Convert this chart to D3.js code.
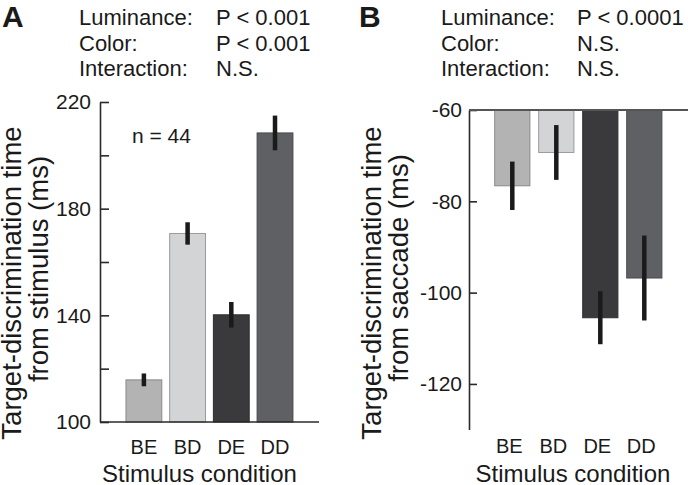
<!DOCTYPE html>
<html>
<head>
<meta charset="utf-8">
<script src="https://cdn.jsdelivr.net/npm/d3@7"></script>
<style>
  html, body { margin: 0; padding: 0; background: #fff; }
  svg { display: block; font-family: "Liberation Sans", Arial, Helvetica, sans-serif; }
  text { fill: #1a1a1a; }
</style>
</head>
<body>
<svg id="chart" width="688" height="485"></svg>
<script>
// ---------- data ----------
const categories = ["BE", "BD", "DE", "DD"];
const colors = ["#b3b3b3", "#d3d4d6", "#3a3a3c", "#5f6064"];
const strokes = ["#8a8a8a", "#9a9a9a", "#2e2e2e", "#4a4a4e"];

const valuesA = [115.8, 170.7, 140.2, 208.4];
const errorsA = [2.4, 4.2, 4.8, 6.5];
const ticksA = [100, 120, 140, 160, 180, 200, 220];
const tickLabelsA = [100, 140, 180, 220];

const valuesB = [-76.6, -69.3, -105.5, -96.8];
const errorsB = [5.3, 6.0, 5.8, 9.3];
const ticksB = [-60, -80, -100, -120];

const statNames = ["Luminance:", "Color:", "Interaction:"];
const statsA = ["P < 0.001", "P < 0.001", "N.S."];
const statsB = ["P < 0.0001", "N.S.", "N.S."];

const yLabelA = ["Target-discrimination time", "from stimulus (ms)"];
const yLabelB = ["Target-discrimination time", "from saccade (ms)"];
const xLabel = "Stimulus condition";
const nLabel = "n = 44";

// ---------- drawing ----------
const svg = d3.select("#chart");
const axisColor = "#2a2a2a";

function header(g, letter, x0, xName, xVal, vals) {
  g.append("text").attr("x", x0).attr("y", 27)
    .attr("font-size", 30).attr("font-weight", "bold").text(letter);
  statNames.forEach((s, i) => {
    g.append("text").attr("x", xName).attr("y", 25 + i * 25.5)
      .attr("font-size", 22).text(s);
    g.append("text").attr("x", xVal).attr("y", 25 + i * 25.5)
      .attr("font-size", 22).text(vals[i]);
  });
}
header(svg, "A", 2, 79, 216, statsA);
header(svg, "B", 359, 441, 577, statsB);

function yLabel(lines, x1, x2, c1, c2) {
  svg.append("text").attr("transform", `translate(${x1},${c1}) rotate(-90)`)
    .attr("text-anchor", "middle").attr("font-size", 27.5).text(lines[0]);
  svg.append("text").attr("transform", `translate(${x2},${c2}) rotate(-90)`)
    .attr("text-anchor", "middle").attr("font-size", 27.5).text(lines[1]);
}

// ---- Panel A ----
const yA = d3.scaleLinear().domain([100, 220]).range([422, 102]);
const xA = d3.scaleBand().domain(categories).range([121.6, 297.3])
  .paddingInner(0.18).paddingOuter(0.1);
const axA = 100;

const gA = svg.append("g");
gA.selectAll("rect.bar").data(categories).join("rect")
  .attr("x", d => xA(d)).attr("width", xA.bandwidth())
  .attr("y", (d, i) => yA(valuesA[i]))
  .attr("height", (d, i) => yA(100) - yA(valuesA[i]))
  .attr("fill", (d, i) => colors[i]).attr("stroke", (d, i) => strokes[i]).attr("stroke-width", 1);

gA.selectAll("line.err").data(categories).join("line")
  .attr("x1", d => xA(d) + xA.bandwidth() / 2).attr("x2", d => xA(d) + xA.bandwidth() / 2)
  .attr("y1", (d, i) => yA(valuesA[i] + errorsA[i]))
  .attr("y2", (d, i) => yA(valuesA[i] - errorsA[i]))
  .attr("stroke", "#1a1a1a").attr("stroke-width", 4.5);

const yAxisA = d3.axisLeft(yA).tickValues(ticksA)
  .tickFormat(d => tickLabelsA.includes(d) ? d : "")
  .tickSizeInner(-9).tickSizeOuter(0).tickPadding(9);
const gyA = svg.append("g").attr("transform", `translate(${axA},0)`).call(yAxisA);
gyA.attr("font-family", null);
gyA.selectAll("text").attr("font-size", 21).attr("fill", "#1a1a1a");
gyA.selectAll("line, path").attr("stroke", axisColor).attr("stroke-width", 1.6);

// baseline x-axis
svg.append("line").attr("x1", axA).attr("x2", 319).attr("y1", yA(100)).attr("y2", yA(100))
  .attr("stroke", axisColor).attr("stroke-width", 1.6);

const xAxisA = d3.axisBottom(xA).tickSize(0).tickPadding(0);
const gxA = svg.append("g").attr("transform", `translate(0,${453.5})`).call(xAxisA);
gxA.attr("font-family", null);
gxA.select(".domain").remove();
gxA.selectAll("text").attr("font-size", 20).attr("dy", 0).attr("fill", "#1a1a1a");

svg.append("text").attr("x", 132).attr("y", 143).attr("font-size", 21).text(nLabel);
svg.append("text").attr("x", 199.5).attr("y", 482).attr("text-anchor", "middle")
  .attr("font-size", 24).text(xLabel);
yLabel(yLabelA, 20.5, 48, 283, 269);

// ---- Panel B ----
const yB = d3.scaleLinear().domain([-60, -130]).range([110, 429.6]);
const xB = d3.scaleBand().domain(categories).range([490.3, 666.3])
  .paddingInner(0.2).paddingOuter(0.1);
const axB = 469;

const gB = svg.append("g");
gB.selectAll("rect.bar").data(categories).join("rect")
  .attr("x", d => xB(d)).attr("width", xB.bandwidth())
  .attr("y", yB(-60))
  .attr("height", (d, i) => yB(valuesB[i]) - yB(-60))
  .attr("fill", (d, i) => colors[i]).attr("stroke", (d, i) => strokes[i]).attr("stroke-width", 1);

gB.selectAll("line.err").data(categories).join("line")
  .attr("x1", d => xB(d) + xB.bandwidth() / 2).attr("x2", d => xB(d) + xB.bandwidth() / 2)
  .attr("y1", (d, i) => yB(valuesB[i] + errorsB[i]))
  .attr("y2", (d, i) => yB(valuesB[i] - errorsB[i]))
  .attr("stroke", "#1a1a1a").attr("stroke-width", 4.5);

const yAxisB = d3.axisLeft(yB).tickValues(ticksB)
  .tickSizeInner(-8).tickSizeOuter(0).tickPadding(7);
const gyB = svg.append("g").attr("transform", `translate(${axB},0)`).call(yAxisB);
gyB.attr("font-family", null);
gyB.selectAll("text").attr("font-size", 21).attr("fill", "#1a1a1a")
  .text(d => d3.format("d")(d).replace("−", "-"));
gyB.selectAll("line, path").attr("stroke", axisColor).attr("stroke-width", 1.6);

// top zero line
svg.append("line").attr("x1", axB).attr("x2", 688).attr("y1", yB(-60)).attr("y2", yB(-60))
  .attr("stroke", "#555").attr("stroke-width", 1.8);

const xAxisB = d3.axisBottom(xB).tickSize(0).tickPadding(0);
const gxB = svg.append("g").attr("transform", `translate(-3,${453})`).call(xAxisB);
gxB.attr("font-family", null);
gxB.select(".domain").remove();
gxB.selectAll("text").attr("font-size", 20).attr("dy", 0).attr("fill", "#1a1a1a");

svg.append("text").attr("x", 573).attr("y", 482).attr("text-anchor", "middle")
  .attr("font-size", 24).text(xLabel);
yLabel(yLabelB, 380.5, 408, 283, 268);
</script>
</body>
</html>
